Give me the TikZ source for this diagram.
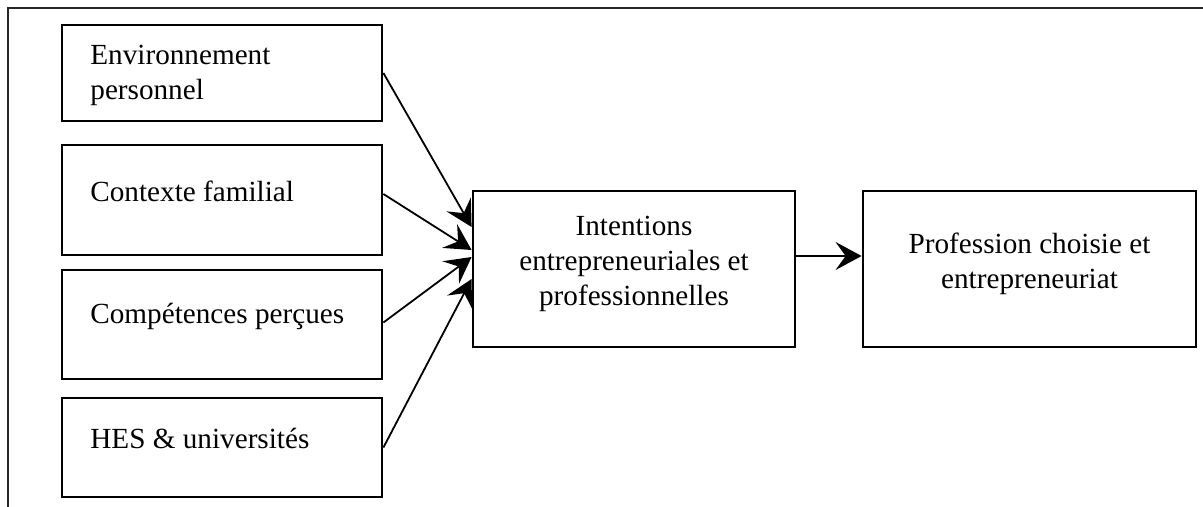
\documentclass[tikz,border=0pt]{standalone}
\usepackage{fontspec}
\setmainfont{Liberation Serif}
\usetikzlibrary{arrows.meta,calc}
\begin{document}
\begin{tikzpicture}[x=0.5pt,y=-0.5pt,
  box/.style={draw, line width=1.4pt, inner sep=0pt, rectangle},
  lbl/.style={inner sep=0pt, font=\fontsize{14.6}{17.5}\selectfont},
  conn/.style={line width=0.9pt, -{Stealth[length=13pt,width=14pt,inset=5pt]}},
  frame/.style={line width=1.1pt, black!85}]
\useasboundingbox (0,0) rectangle (1203,507);
% frame
\coordinate (fbl) at (8,507);
\coordinate (ftl) at (8,8);
\coordinate (ftr) at (1203,8);
\draw[frame] (fbl) -- (ftl) -- (ftr);
% boxes
\node[box, minimum width=160pt, minimum height=48pt] (b1) at (222,73) {};
\node[box, minimum width=160pt, minimum height=55pt] (b2) at (222,200) {};
\node[box, minimum width=160pt, minimum height=54.5pt] (b3) at (222,324.5) {};
\node[box, minimum width=160pt, minimum height=49.5pt] (b4) at (222,447.5) {};
\node[box, minimum width=161pt, minimum height=78pt] (m) at (634,269) {};
\node[box, minimum width=166.5pt, minimum height=78pt] (r) at (1029.5,269) {};
% texts
\node[lbl, anchor=west, align=left] (t1) at (90,75) {Environnement\\personnel};
\node[lbl, anchor=base west] (t2) at (90,202) {Contexte familial};
\node[lbl, anchor=base west] (t3) at (90,323) {Compétences perçues};
\node[lbl, anchor=base west] (t4) at (90,448) {HES \& universités};
\node[lbl, align=center] (tm) at (634,264) {Intentions\\entrepreneuriales et\\professionnelles};
\node[lbl, align=center] (tr) at (1029.5,264) {Profession choisie et\\entrepreneuriat};
% connectors
\draw[conn] (b1.east) -- ($(m.west)+(0,-42)$);
\draw[conn] ($(b2.east)+(0,-6)$) -- ($(m.west)+(0,-19)$);
\draw[conn] ($(b3.east)+(0,-2)$) -- ($(m.west)+(0,-12)$);
\draw[conn] (b4.east) -- ($(m.west)+(0,10)$);
\draw[conn] ($(m.east)+(0,-13)$) -- ($(r.west)+(0,-13)$);
\end{tikzpicture}
\end{document}
